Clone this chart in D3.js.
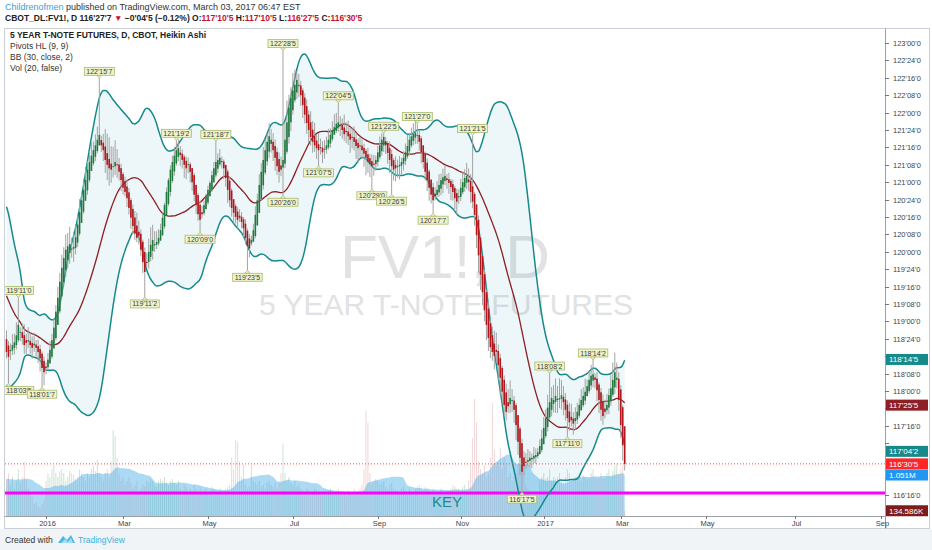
<!DOCTYPE html>
<html><head><meta charset="utf-8">
<script src="https://cdn.jsdelivr.net/npm/d3@7"></script>
<style>
html,body{margin:0;padding:0;background:#fff;}
svg{display:block;font-family:"Liberation Sans",Arial,sans-serif;}
</style></head><body>
<svg id="c" width="932" height="550"></svg>
<script>
// ---------------- DATA ----------------
const holidays = ["2015-12-25","2016-01-01","2016-01-18","2016-02-15","2016-03-25","2016-05-30","2016-07-04","2016-09-05","2016-11-24","2016-12-26","2017-01-02","2017-01-16","2017-02-20"];
const firstBarDate = "2015-12-03";
// 29 bars before the first visible bar (for the 30-period bands)
const warmCloses = [120.5,120.6,120.55,120.4,120.2,120.1,120.15,120.2,120.0,119.5,119.2,119.1,119.0,118.95,119.05,119.1,119.0,118.9,118.95,119.0,119.05,118.95,118.9,118.85,118.95,119.0,118.9,118.75,118.65];
const warmVolumes = [1000,1100,950,1200,1050,900,1300,1100,1000,950,900,1000,1100,950,850,900,1000,1050,950,900,850,800,900,950,1000,900,850,1100,1000];
// Heikin Ashi closes, one per visible daily bar (Dec 3 2015 .. Mar 3 2017)
const closes = [
118.56,118.49,118.59,118.66,118.70,118.80,118.95,118.85,118.76,118.66,118.69,118.73,118.66,118.62,118.68,118.62,118.56,118.47,118.33,118.27,
118.33,118.45,118.59,118.73,118.91,119.14,119.34,119.57,119.77,119.91,120.03,120.08,120.11,120.04,120.07,120.21,120.39,120.57,120.74,120.89,121.03,121.18,121.29,121.38,121.46,121.53,121.61,121.68,
121.53,121.46,121.32,121.25,121.20,121.18,121.23,121.29,121.25,121.15,121.03,120.92,120.86,120.77,120.63,120.49,120.37,120.26,120.20,120.23,120.03,119.85,119.71,
119.85,120.00,120.10,120.17,120.11,120.14,120.20,120.31,120.49,120.67,120.86,121.03,121.18,121.29,121.38,121.46,121.49,
121.39,121.32,121.25,121.20,121.26,121.15,121.00,120.82,120.67,120.54,120.46,
120.54,120.67,120.80,120.89,120.99,121.10,121.20,121.29,121.32,121.35,
121.29,121.20,121.06,120.89,120.74,120.63,120.56,120.50,120.46,120.49,120.43,120.34,120.20,120.08,120.05,
120.17,120.31,120.53,120.74,120.96,121.15,121.32,121.46,121.58,121.66,121.61,121.46,121.35,121.23,121.15,121.18,121.32,121.61,121.86,122.07,122.21,122.32,122.40,122.47,122.40,
122.25,122.11,121.97,121.85,121.75,121.65,121.58,121.53,121.49,121.46,121.49,121.43,121.48,
121.53,121.61,121.68,121.75,121.79,121.84,121.86,121.82,
121.75,121.69,121.72,121.66,121.61,121.64,121.58,121.52,121.49,121.52,121.46,121.41,121.35,121.29,121.26,121.23,121.25,
121.32,121.43,121.53,121.61,121.65,121.53,121.42,121.32,121.23,121.18,121.20,
121.23,121.25,121.29,121.35,121.43,121.52,121.61,121.66,121.69,121.71,121.68,
121.58,121.43,121.29,121.15,121.03,120.92,120.82,120.74,
120.80,120.89,120.96,121.03,121.07,121.09,
121.03,120.99,120.93,120.86,120.77,120.72,
120.80,120.92,121.00,121.06,121.09,121.00,120.86,120.72,
120.53,120.24,119.95,119.67,119.42,119.16,118.95,118.76,118.63,118.56,118.50,118.56,118.37,118.19,117.99,117.80,117.70,117.78,117.90,117.87,117.73,117.51,117.27,117.04,116.84,
116.92,116.98,117.01,117.04,117.04,117.07,117.08,117.12,117.21,117.32,117.47,117.61,117.76,117.84,117.90,117.87,
117.93,117.87,117.90,117.94,117.84,117.73,117.61,117.55,117.58,117.53,117.61,
117.70,117.80,117.87,117.93,117.99,118.07,118.16,118.22,118.24,
118.16,118.01,117.87,117.73,117.64,117.70,117.80,117.94,118.04,118.16,118.27,118.19,117.87,117.51,117.22,116.953];
// wick lengths beyond the body, in 32nds
const upWick32 = [
4,2,3,5,4,6,3,2,4,5,3,6,4,3,5,2,3,2,1,2,
2,3,4,3,4,3,5,4,6,5,7,6,8,5,7,6,5,6,4,5,6,4,5,6,4,5,6,3,
2,4,8,9,10,8,9,10,7,3,2,1,2,3,2,1,2,3,6,5,2,1,2,
4,6,8,7,6,5,4,3,2,1,2,1,2,3,4,5,4,
3,2,1,2,3,1,0,1,0,1,2,
3,2,1,2,1,2,3,2,3,4,
2,1,0,1,2,1,0,1,2,3,2,1,2,1,2,
2,3,4,3,5,4,6,5,4,6,5,4,3,2,3,4,0,8,10,6,5,8,7,4,5,
2,1,2,3,2,5,4,6,3,5,4,3,4,
4,5,3,4,6,5,0,4,
3,6,4,5,3,4,5,3,2,4,3,2,1,3,2,3,4,
2,3,4,3,0,2,1,3,2,1,4,
3,4,2,3,4,5,3,4,5,6,0,
2,1,0,1,2,1,0,2,
3,4,5,3,4,5,
2,3,1,2,1,2,
3,4,5,4,6,5,3,0,
1,0,2,1,0,2,1,3,2,4,6,8,3,2,1,2,4,6,8,5,2,1,0,1,2,
3,4,5,3,2,4,3,2,3,4,5,4,6,0,5,7,
8,6,9,7,5,3,2,4,6,3,5,
4,3,5,4,6,3,4,5,0,
2,3,1,2,3,4,5,3,6,8,9,7,3,2,1,0];
const dnWick32 = [
3,8,4,2,3,2,1,4,3,4,5,3,4,5,3,4,5,6,8,6,
3,1,0,1,0,1,0,1,0,2,3,4,5,4,6,3,2,1,0,1,0,2,1,0,1,2,1,0,
3,5,6,7,8,6,5,4,6,4,5,3,2,4,3,5,4,3,2,4,3,5,4,
2,3,2,4,3,2,1,0,0,1,0,1,2,1,2,1,2,
5,4,6,5,4,5,4,3,4,3,2,
2,1,0,1,0,1,0,1,2,1,
3,5,4,6,3,4,5,3,4,2,3,4,3,5,4,
1,0,1,0,0,1,2,1,2,3,4,5,6,4,5,3,0,2,1,3,4,2,1,3,5,
5,6,4,5,6,4,5,3,5,4,3,5,4,
2,1,2,1,0,1,2,5,
4,3,5,4,6,5,4,6,7,5,4,6,8,5,6,0,5,
3,2,1,2,3,4,5,6,0,5,6,
5,6,4,3,2,1,2,1,2,3,4,
4,5,3,4,5,6,4,0,
2,1,2,3,4,2,
4,5,6,4,5,6,
3,2,1,2,3,4,5,3,
5,6,8,7,6,5,7,6,5,4,6,5,7,8,6,5,4,3,4,5,6,7,6,8,0,
4,3,2,3,4,2,3,1,0,1,0,1,2,1,3,4,
5,6,4,5,6,5,0,4,3,5,4,
2,1,0,1,2,0,1,2,3,
4,5,6,5,4,3,2,3,2,1,3,4,5,6,7,3];
// daily volume, thousands of contracts
const volumes = [
950,1100,800,1000,700,900,1200,850,1000,1400,900,700,600,500,300,350,250,200,300,400,
900,1100,1000,1200,1300,1100,1000,1150,1200,1100,900,1000,1150,1100,1050,950,1000,1200,1100,1000,900,1100,1000,1200,1300,1150,1450,1100,
1000,900,1100,1200,1000,1400,2200,2050,1500,1100,900,1000,800,900,1000,850,700,800,900,650,700,800,750,
900,850,950,900,800,750,900,950,900,1000,850,800,900,950,850,800,900,
700,650,800,750,600,700,650,800,700,600,750,
600,650,700,550,600,750,700,650,600,700,
650,600,700,750,800,1500,1200,1950,1900,1400,1000,1300,800,700,750,
1300,900,850,800,900,750,800,700,850,900,800,750,850,700,900,1100,1850,1100,900,1000,850,800,900,750,800,
700,650,600,700,650,550,600,700,650,600,550,600,650,
600,650,700,550,600,650,700,600,
550,600,500,650,600,550,700,600,650,700,800,1200,2700,2400,1100,850,900,
950,900,800,850,900,750,700,800,850,700,650,
650,600,700,750,650,600,700,650,600,700,750,
800,700,650,750,700,650,600,700,
650,600,550,700,650,600,
600,650,700,800,750,700,
700,650,750,800,700,900,1300,2000,
3000,2400,1400,1200,1100,1300,1000,1100,1500,2900,1700,1300,1400,1750,1200,1500,1300,1000,1100,900,1000,1100,1300,1200,1600,
1100,800,700,600,400,350,450,500,900,1000,1100,950,1000,1200,900,1000,
950,1000,1100,900,850,1000,1200,1100,900,950,1000,
1000,1100,900,1050,1000,950,1000,1100,1200,
1000,950,1000,1100,950,1000,1100,1200,1000,1150,1300,1350,1100,1200,1300,134.586];
// Pivots HL (9,9): [bar index, price]
const pivotHighs = [[6,119.34375],[47,122.4921875],[86,121.6015625],[106,121.5859375],[140,122.890625],[168,122.140625],[191,121.703125],[208,121.84375],[236,121.671875],[275,118.2578125],[297,118.4453125]];
const pivotLows = [[1,118.109375],[18,118.0546875],[70,119.3515625],[98,120.28125],[122,119.734375],[140,120.8125],[158,121.234375],[185,120.90625],[195,120.828125],[216,120.5546875],[261,116.546875],[284,117.34375]];
const keyLevel = 116.535;
const priceTicks = [123,122.75,122.5,122.25,122,121.75,121.5,121.25,121,120.75,120.5,120.25,120,119.75,119.5,119.25,119,118.75,118.5,118.25,118,117.75,117.5,117.25,117,116.75,116.5];
const monthTicks = ["2016-01","2016-03","2016-05","2016-07","2016-09","2016-11","2017-01","2017-03","2017-05","2017-07","2017-09"];
// last values shown on the price scale
const lastUpper = 118.453125, lastBasis = 117.796875, lastLower = 117.1328125, lastClose = 116.953125;
const lastVolMA = 1051, lastVol = 134.586;

// ---------------- SETUP ----------------
const svg = d3.select("#c");
const P = {l:5, r:885, t:29, b:516};
const x = d3.scaleLinear().domain([-0.76, 444.81]).range([P.l, P.r]);
const y = d3.scaleLinear().domain([123, 116.5]).range([43, 495.4]);
const yv = d3.scaleLinear().domain([0, 1000]).range([516, 477]);

// trading dates
const hol = new Set(holidays);
const dates = [];
{
  let d = new Date(firstBarDate + "T00:00:00Z");
  while (dates.length < closes.length) {
    const wd = d.getUTCDay(); const s = d.toISOString().slice(0,10);
    if (wd !== 0 && wd !== 6 && !hol.has(s)) dates.push(new Date(d));
    d = new Date(d.getTime() + 86400000);
  }
  while (dates.length < 460) { // future slots (weekdays)
    const wd = d.getUTCDay();
    if (wd !== 0 && wd !== 6) dates.push(new Date(d));
    d = new Date(d.getTime() + 86400000);
  }
}

// Heikin Ashi opens, bands, vol MA
const W0 = warmCloses.length;
const allC = warmCloses.concat(closes);
const allV = warmVolumes.concat(volumes);
const haO = [allC[0]];
for (let g = 1; g < allC.length; g++) haO[g] = (haO[g-1] + allC[g-1]) / 2;
const hiPiv = new Map(pivotHighs), loPiv = new Map(pivotLows);
const bars = closes.map((c, i) => {
  const g = i + W0, o = haO[g];
  let hi = Math.max(o, c) + upWick32[i]/32, lo = Math.min(o, c) - dnWick32[i]/32;
  if (hiPiv.has(i)) hi = Math.max(hiPiv.get(i), Math.max(o,c));
  if (loPiv.has(i)) lo = Math.min(loPiv.get(i), Math.min(o,c));
  const win = allC.slice(g-29, g+1);
  const m = d3.mean(win);
  const sd = Math.sqrt(d3.mean(win, v => (v-m)*(v-m)));
  const vwin = allV.slice(g-19, g+1);
  return {i, o, c, hi, lo, basis:m, up:m+2*sd, dn:m-2*sd, vol:volumes[i], vma:d3.mean(vwin)};
});

const fmt32 = p => { const w = Math.floor(p + 1e-9); const f = (p - w) * 32; const n = Math.floor(f + 1e-7);
  const d = Math.floor((f - n) * 10 + 1e-6); return w + "'" + String(n).padStart(2, "0") + "'" + d; };

// ---------------- BACKGROUND ----------------
svg.append("rect").attr("width", 932).attr("height", 550).attr("fill", "#ffffff");
svg.append("rect").attr("x",0).attr("y",529).attr("width",932).attr("height",21).attr("fill","#f1f4f6");
svg.append("rect").attr("x",4.5).attr("y",28.5).attr("width",925).attr("height",500).attr("fill","#fff").attr("stroke","#c9cfd4");

svg.append("clipPath").attr("id","pc").append("rect").attr("x",P.l).attr("y",P.t).attr("width",P.r-P.l).attr("height",P.b-P.t);
const g = svg.append("g").attr("clip-path","url(#pc)");

// watermark
g.append("text").attr("x",445).attr("y",278).attr("text-anchor","middle").attr("font-size",62).attr("fill","#e0e2e4").text("FV1!, D");
g.append("text").attr("x",446).attr("y",315).attr("text-anchor","middle").attr("font-size",30).attr("fill","#e0e2e4").text("5 YEAR T-NOTE FUTURES");

// BB fill
g.append("path").datum(bars)
  .attr("d", d3.area().x(d => x(d.i)).y0(d => y(d.dn)).y1(d => y(d.up)).curve(d3.curveMonotoneX))
  .attr("fill", "rgba(20,140,165,0.075)");

// volume bars
g.selectAll("rect.v").data(bars).join("rect").attr("class","v")
  .attr("x", d => x(d.i) - 0.5).attr("width", 1)
  .attr("y", d => yv(d.vol)).attr("height", d => yv(0) - yv(d.vol))
  .attr("fill", d => d.c >= d.o ? "rgba(90,160,110,0.3)" : "rgba(205,90,90,0.25)");
// volume MA area
g.append("path").datum(bars)
  .attr("d", d3.area().x(d => x(d.i)).y0(yv(0)).y1(d => yv(d.vma)).curve(d3.curveMonotoneX))
  .attr("fill", "rgba(70,170,230,0.45)");

// key level
g.append("line").attr("x1",P.l).attr("x2",P.r).attr("y1",y(keyLevel)).attr("y2",y(keyLevel))
  .attr("stroke","#ff00ff").attr("stroke-width",3);
g.append("text").attr("x",447).attr("y",507).attr("text-anchor","middle").attr("font-size",15).attr("fill","#1b8a8c").text("KEY");

// bands
const line = k => d3.line().x(d => x(d.i)).y(d => y(d[k])).curve(d3.curveMonotoneX);
g.append("path").datum(bars).attr("d", line("up")).attr("fill","none").attr("stroke","#168a8a").attr("stroke-width",1.5);
g.append("path").datum(bars).attr("d", line("dn")).attr("fill","none").attr("stroke","#168a8a").attr("stroke-width",1.5);
g.append("path").datum(bars).attr("d", line("basis")).attr("fill","none").attr("stroke","#8e1f24").attr("stroke-width",1.3);

// candles
g.selectAll("line.w").data(bars).join("line").attr("class","w")
  .attr("x1", d => x(d.i)).attr("x2", d => x(d.i)).attr("y1", d => y(d.hi)).attr("y2", d => y(d.lo))
  .attr("stroke","#a3a3a3").attr("stroke-width",1);
g.selectAll("rect.b").data(bars).join("rect").attr("class","b")
  .attr("x", d => x(d.i) - 0.8).attr("width", 1.6)
  .attr("y", d => y(Math.max(d.o, d.c))).attr("height", d => Math.max(1, Math.abs(y(d.o) - y(d.c))))
  .attr("fill", d => d.c >= d.o ? "#1f7a3e" : "#b0171c");

// last price line
g.append("line").attr("x1",P.l).attr("x2",P.r).attr("y1",y(lastClose)).attr("y2",y(lastClose))
  .attr("stroke","#ff4d4d").attr("stroke-width",1).attr("stroke-dasharray","1,2");

// pivot labels
function pivotLabel(i, p, isHigh) {
  const cx = Math.max(x(i), 19), px = x(i), py = y(p);
  const t = fmt32(p);
  const grp = g.append("g");
  const txt = grp.append("text").attr("font-size",7).attr("fill","#3c3c3c").attr("text-anchor","middle").text(t);
  const w = txt.node().getComputedTextLength() + 4, h = 8;
  const by = isHigh ? py - 3 - h : py + 3;
  grp.insert("rect","text").attr("x",cx - w/2).attr("y",by).attr("width",w).attr("height",h)
    .attr("fill","#eef4cc").attr("stroke","#a9bb6a").attr("stroke-width",0.8);
  const ty = isHigh ? py - 3 : py + 3;
  grp.insert("path","text").attr("d", `M${px-2.5},${ty}L${px},${py}L${px+2.5},${ty}Z`)
    .attr("fill","#eef4cc").attr("stroke","#a9bb6a").attr("stroke-width",0.8);
  txt.attr("x",cx).attr("y",by + 6.5);
}
pivotHighs.forEach(([i,p]) => pivotLabel(i,p,true));
pivotLows.forEach(([i,p]) => pivotLabel(i,p,false));

// ---------------- AXES ----------------
svg.append("line").attr("x1",P.r+0.5).attr("x2",P.r+0.5).attr("y1",28.5).attr("y2",528.5).attr("stroke","#9aa0a6");
svg.append("line").attr("x1",4.5).attr("x2",P.r+0.5).attr("y1",P.b+0.5).attr("y2",P.b+0.5).attr("stroke","#9aa0a6");
const boxYs = [y(lastUpper), y(lastBasis), y(lastLower), y(lastClose), yv(lastVolMA), yv(lastVol)];
const ra = svg.append("g");
priceTicks.forEach(p => {
  const yy = Math.round(y(p)) + 0.5;
  ra.append("line").attr("x1",P.r).attr("x2",P.r+4).attr("y1",yy).attr("y2",yy).attr("stroke","#777");
  if (boxYs.some(b => Math.abs(b - yy) < 10)) return;
  ra.append("text").attr("x",P.r+8).attr("y",yy+2.7).attr("font-size",7.5).attr("fill","#444").text(fmt32(p));
});
const ba = svg.append("g");
monthTicks.forEach(m => {
  const md = new Date(m + "-01T00:00:00Z");
  const idx = dates.findIndex(d => d >= md);
  const xx = Math.round(x(idx)) + 0.5;
  const lab = md.getUTCMonth() === 0 ? String(md.getUTCFullYear()) : d3.utcFormat("%b")(md);
  ba.append("line").attr("x1",xx).attr("x2",xx).attr("y1",P.b).attr("y2",P.b+3).attr("stroke","#777");
  ba.append("text").attr("x",xx+1).attr("y",526).attr("text-anchor","middle").attr("font-size",7.5).attr("fill","#444").text(lab);
});

// scale labels
function scaleBox(yy, txt, fill) {
  svg.append("rect").attr("x",P.r+1).attr("y",yy-5.5).attr("width",42).attr("height",11).attr("fill",fill);
  svg.append("text").attr("x",P.r+4).attr("y",yy+2.8).attr("font-size",8).attr("fill","#fff").text(txt);
}
scaleBox(y(lastUpper), fmt32(lastUpper), "#168a8a");
scaleBox(y(lastBasis), fmt32(lastBasis), "#8e1f24");
scaleBox(y(lastLower), fmt32(lastLower), "#168a8a");
scaleBox(y(lastClose), fmt32(lastClose), "#ff2626");
scaleBox(yv(lastVolMA), (lastVolMA/1000).toFixed(3) + "M", "#2196f3");
scaleBox(yv(lastVol), lastVol.toFixed(3) + "K", "#7e1c1c");

// ---------------- TEXTS ----------------
const h1 = svg.append("text").attr("x",5).attr("y",10).attr("font-size",9);
h1.append("tspan").attr("fill","#3b9fd8").text("Childrenofmen");
h1.append("tspan").attr("fill","#333").text(" published on TradingView.com, March 03, 2017 06:47 EST");
const h2 = svg.append("text").attr("x",5).attr("y",21).attr("font-size",8.5).attr("font-weight","bold");
h2.append("tspan").attr("fill","#222").text("CBOT_DL:FV1!, D  116'27'7 ");
h2.append("tspan").attr("fill","#c8102e").text("▼");
h2.append("tspan").attr("fill","#222").text(" −0'04'5 (−0.12%)  O:");
h2.append("tspan").attr("fill","#c8102e").text("117'10'5");
h2.append("tspan").attr("fill","#222").text(" H:");
h2.append("tspan").attr("fill","#c8102e").text("117'10'5");
h2.append("tspan").attr("fill","#222").text(" L:");
h2.append("tspan").attr("fill","#c8102e").text("116'27'5");
h2.append("tspan").attr("fill","#222").text(" C:");
h2.append("tspan").attr("fill","#c8102e").text("116'30'5");

svg.append("text").attr("x",10).attr("y",38).attr("font-size",8.5).attr("font-weight","bold").attr("fill","#222").text("5 YEAR T-NOTE FUTURES, D, CBOT, Heikin Ashi");
["Pivots HL (9, 9)","BB (30, close, 2)","Vol (20, false)"].forEach((t,k) =>
  svg.append("text").attr("x",10).attr("y",49 + k*11).attr("font-size",8.5).attr("fill","#333").text(t));

// footer
svg.append("text").attr("x",5).attr("y",543).attr("font-size",8.5).attr("fill","#333").text("Created with");
const logo = svg.append("g").attr("transform","translate(58,535)");
logo.append("path").attr("d","M0,8 L5,1 L9,5 L13,0 L17,8 Z").attr("fill","#4db6e6");
logo.append("path").attr("d","M3,8 L7,4 L10,7 L13,3 L15,8 Z").attr("fill","#a9dcf3");
svg.append("text").attr("x",78).attr("y",543).attr("font-size",8.5).attr("fill","#3bb0e2").text("TradingView");
</script>
</body></html>
